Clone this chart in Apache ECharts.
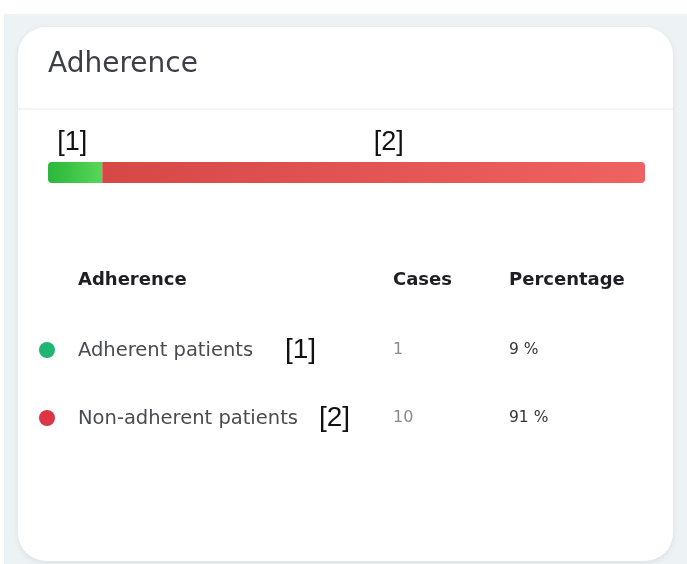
<!DOCTYPE html>
<html lang="en">
<head>
    <meta charset="UTF-8">
    <title>Adherence</title>
    <script src="https://cdn.jsdelivr.net/npm/echarts@6/dist/echarts.min.js"></script>
    <style>
        html, body { margin: 0; padding: 0; background: #fff; }
        #main { width: 687px; height: 564px; }
    </style>
</head>
<body>
    <div id="main"></div>
    <script>
        // data
        var groups = ['Adherent patients', 'Non-adherent patients'];
        var tags = ['[1]', '[2]'];
        var cases = [1, 10];
        var percents = [9, 91];
        var headers = ['Adherence', 'Cases', 'Percentage'];

        var dotColors = ['#1fb573', '#dc3545'];
        var barColors = [
            ['#2bb63b', '#57d757'],
            ['#d64846', '#ef6262']
        ];

        var total = cases.reduce(function (a, b) { return a + b; }, 0);
        var font = '"DejaVu Sans", sans-serif';
        var tagFont = '"Liberation Sans", sans-serif';

        // table drawn as graphic texts
        var colX = [78, 393, 509];
        var rowY = [350, 418];
        var tagX = [285, 319];
        var table = [];
        headers.forEach(function (h, i) {
            table.push({
                type: 'text', left: colX[i], top: 271,
                style: { text: h, fontFamily: font, fontSize: 18, fontWeight: 'bold', fill: '#1e1e24' }
            });
        });
        groups.forEach(function (g, i) {
            var y = rowY[i];
            table.push({ type: 'circle', shape: { cx: 47, cy: y, r: 8 }, style: { fill: dotColors[i] } });
            table.push({ type: 'text', left: colX[0], top: y - 9,
                style: { text: g, fontFamily: font, fontSize: 19.5, fill: '#4a4a52' } });
            table.push({ type: 'text', left: tagX[i], top: y - 14,
                style: { text: tags[i], fontFamily: tagFont, fontSize: 28, fill: '#111' } });
            table.push({ type: 'text', left: colX[1], top: y - 8,
                style: { text: String(cases[i]), fontFamily: font, fontSize: 16, fill: '#8a8a92' } });
            table.push({ type: 'text', left: colX[2], top: y - 8,
                style: { text: percents[i] + ' %', fontFamily: font, fontSize: 15.5, fill: '#33333a' } });
        });

        var myChart = echarts.init(document.getElementById('main'));
        var option = {
            backgroundColor: '#fff',
            animation: false,
            graphic: [
                { type: 'rect', z: -10, shape: { x: 4, y: 14, width: 683, height: 550 }, style: { fill: '#edf3f5' } },
                { type: 'rect', z: -9, shape: { x: 18, y: 27, width: 655, height: 534, r: 28 },
                  style: { fill: '#fff', shadowBlur: 6, shadowColor: 'rgba(0,0,0,0.08)', shadowOffsetY: 2 } },
                { type: 'line', z: -8, shape: { x1: 18, y1: 109, x2: 673, y2: 109 }, style: { stroke: '#e6e8ea', lineWidth: 1 } },
                { type: 'text', left: 48, top: 51,
                  style: { text: 'Adherence', fontFamily: font, fontSize: 28, fill: '#3e3e4a' } }
            ].concat(table),
            grid: { left: 48, right: 42, top: 162, height: 21 },
            xAxis: { type: 'value', min: 0, max: total, show: false },
            yAxis: { type: 'category', data: ['adherence'], show: false },
            series: groups.map(function (g, i) {
                return {
                    name: g,
                    type: 'bar',
                    stack: 'all',
                    barWidth: 21,
                    data: [cases[i]],
                    itemStyle: {
                        borderRadius: i === 0 ? [4, 0, 0, 4] : [0, 4, 4, 0],
                        color: new echarts.graphic.LinearGradient(0, 0, 1, 0, [
                            { offset: 0, color: barColors[i][0] },
                            { offset: 1, color: barColors[i][1] }
                        ])
                    },
                    label: {
                        show: true,
                        position: 'top',
                        distance: 6,
                        offset: i === 0 ? [-3, 0] : [15, 0],
                        formatter: tags[i],
                        fontFamily: tagFont,
                        fontSize: 27,
                        color: '#111'
                    }
                };
            })
        };
        myChart.setOption(option);
    </script>
</body>
</html>
